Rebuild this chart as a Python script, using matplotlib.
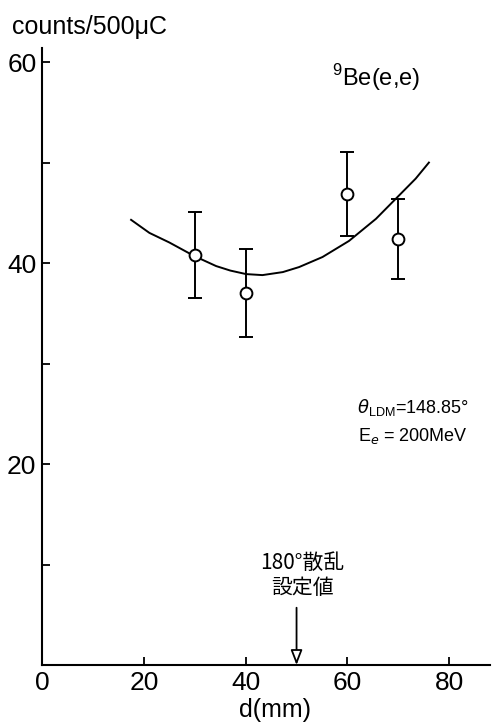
import matplotlib
matplotlib.use("Agg")
import matplotlib.pyplot as plt

plt.rcParams['font.family'] = ['Liberation Sans', 'DejaVu Sans']

# measured yields vs. target position
d_pts = [30, 40, 60, 70]
counts = [40.8, 37.0, 46.9, 42.4]
errs = [4.3, 4.4, 4.2, 4.0]

fit_d = [17.5, 21.1, 25.0, 29.9, 34.2, 37.0, 40.1, 43.3, 47.3, 50.5, 55.1, 60.3, 65.6, 69.5, 73.4, 76.0]
fit_c = [44.3, 43.0, 42.05, 40.7, 39.7, 39.25, 38.9, 38.8, 39.1, 39.6, 40.6, 42.2, 44.4, 46.4, 48.4, 50.0]

xticks = [0, 20, 40, 60, 80]
yticks = [10, 20, 30, 40, 50, 60]
ylabels = ['', '20', '', '40', '', '60']
set_d = 50

fig = plt.figure(figsize=(4.92, 7.22), dpi=100)
ax = fig.add_axes([42 / 492, 57 / 722, 448 / 492, 617 / 722])
ax.set_xlim(0, 88)
ax.set_ylim(0, 61.4)

ax.plot(fit_d, fit_c, color='black', lw=1.4, zorder=2, solid_joinstyle='round')
ax.errorbar(d_pts, counts, yerr=errs, fmt='o', ms=8.5, mfc='white', mec='black',
            mew=1.4, ecolor='black', elinewidth=1.4, capsize=5, capthick=1.4, zorder=3)

for s in ['top', 'right']:
    ax.spines[s].set_visible(False)
for s in ['left', 'bottom']:
    ax.spines[s].set_linewidth(1.5)

ax.set_xticks(xticks)
ax.set_xticklabels([str(v) for v in xticks])
ax.set_yticks(yticks)
ax.set_yticklabels(ylabels)
ax.tick_params(direction='in', length=6, width=1.3, labelsize=19, pad=4)
ax.xaxis.get_major_ticks()[0].tick1line.set_visible(False)

ax.text(0.52, -0.054, 'd(mm)', transform=ax.transAxes, ha='center', va='top', fontsize=18)
fig.text(12 / 492, 1 - 34 / 722, 'counts/500μC', ha='left', va='baseline', fontsize=18)

ax.text(57, 57.6, r'$^{\mathregular{9}}$Be(e,e)', ha='left', va='baseline', fontsize=17)
ax.text(61.8, 25.1, r'$\theta_{\mathregular{LDM}}$=148.85°', ha='left', va='baseline', fontsize=13)
ax.text(62, 22.3, r'E$_{e}$ = 200MeV', ha='left', va='baseline', fontsize=13)

ax.text(51.2, 6.6, '180°散乱\n設定値', ha='center', va='bottom', fontsize=15,
        linespacing=1.15, family=['Noto Sans CJK JP', 'DejaVu Sans'])
ax.annotate('', xy=(set_d, 0), xytext=(set_d, 5.7),
            arrowprops=dict(arrowstyle='-|>,head_length=0.9,head_width=0.35',
                            fc='white', ec='black', lw=1.3, shrinkA=0, shrinkB=0))

fig.savefig('out.png', dpi=100)
